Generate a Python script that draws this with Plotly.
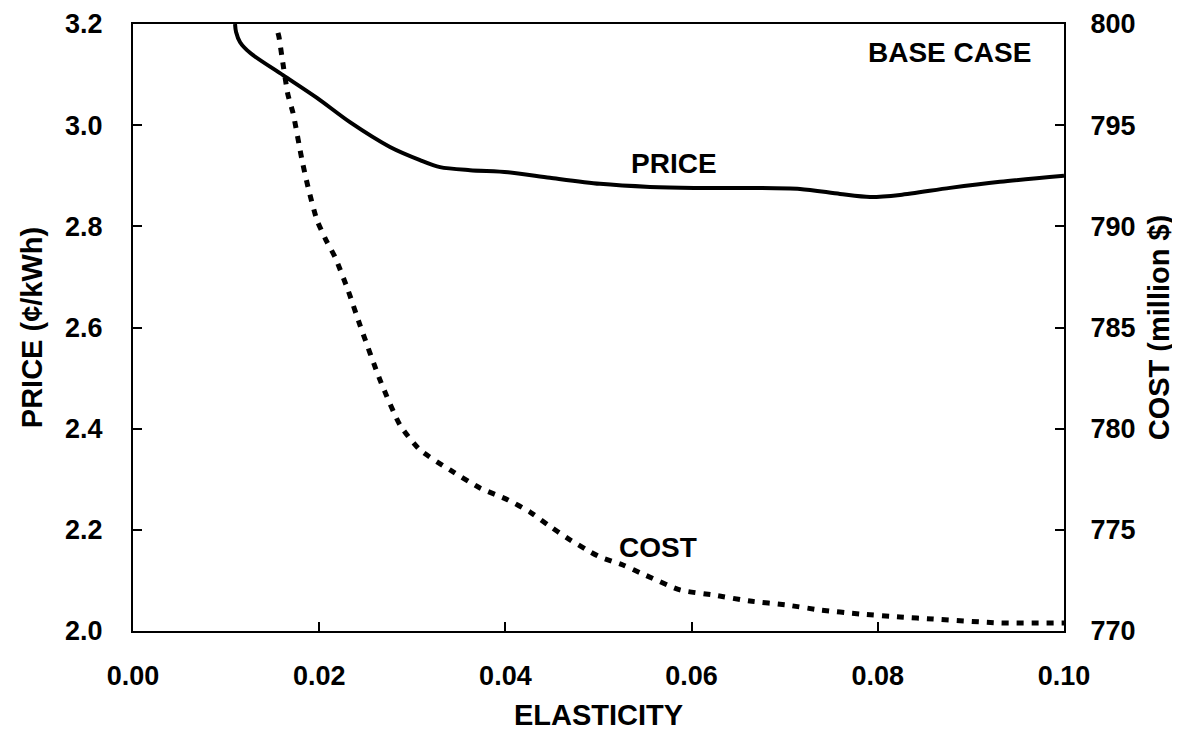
import plotly.graph_objects as go

# PRICE curve (left axis, cents/kWh)
price_x = [0.01096, 0.01107, 0.01150, 0.01257, 0.01611, 0.01976, 0.02330, 0.02760,
           0.03083, 0.03298, 0.03620, 0.04028, 0.04479, 0.05016, 0.05553, 0.06026,
           0.06627, 0.07164, 0.07594, 0.07916, 0.08239, 0.08776, 0.09313, 0.10000]
price_y = [3.200, 3.184, 3.164, 3.143, 3.099, 3.054, 3.006, 2.957,
           2.931, 2.917, 2.911, 2.907, 2.896, 2.884, 2.878, 2.876,
           2.876, 2.874, 2.864, 2.858, 2.862, 2.876, 2.888, 2.900]

# COST curve (right axis, million $)
cost_x = [0.01557, 0.01568, 0.01600, 0.01665, 0.01719, 0.01815, 0.01880, 0.01976,
          0.02073, 0.02170, 0.02309, 0.02438, 0.02653, 0.02868, 0.03083, 0.03405,
          0.03727, 0.04028, 0.04264, 0.04458, 0.04662, 0.04877, 0.05016, 0.05263,
          0.05499, 0.05875, 0.06230, 0.06627, 0.07025, 0.07379, 0.07809, 0.08239,
          0.08593, 0.09313, 0.10000]
cost_y = [799.56, 799.36, 798.37, 796.49, 795.60, 793.28, 791.94, 790.31,
          789.32, 788.48, 786.85, 785.12, 782.41, 780.18, 778.95, 777.96,
          777.07, 776.48, 775.88, 775.24, 774.60, 774.00, 773.66, 773.26,
          772.77, 772.03, 771.78, 771.48, 771.28, 771.04, 770.84, 770.69,
          770.59, 770.40, 770.40]

x_ticks = [0.00, 0.02, 0.04, 0.06, 0.08, 0.10]
x_ticklabels = ["0.00", "0.02", "0.04", "0.06", "0.08", "0.10"]
y_ticks = [2.0, 2.2, 2.4, 2.6, 2.8, 3.0, 3.2]
y_ticklabels = ["2.0", "2.2", "2.4", "2.6", "2.8", "3.0", "3.2"]
y2_ticks = [770, 775, 780, 785, 790, 795, 800]
y2_ticklabels = ["770", "775", "780", "785", "790", "795", "800"]

FONT = "Liberation Sans, Arial, Helvetica, sans-serif"

fig = go.Figure()
fig.add_trace(go.Scatter(x=price_x, y=price_y, mode="lines", name="PRICE",
                         line=dict(color="black", width=4, shape="spline", smoothing=0.8),
                         yaxis="y", showlegend=False))
fig.add_trace(go.Scatter(x=cost_x, y=cost_y, mode="lines", name="COST",
                         line=dict(color="black", width=5, dash="7px,8px", shape="spline", smoothing=0.6),
                         yaxis="y2", showlegend=False))

tickfont = dict(family=FONT, size=27, color="black", weight="bold")
titlefont = dict(family=FONT, size=29, color="black", weight="bold")
annfont = dict(family=FONT, size=28, color="black", weight="bold")

# page body has an 8px margin, so the figure is offset by 8px
fig.update_layout(
    width=1172, height=724,
    margin=dict(l=125, r=116, t=16, b=101),
    paper_bgcolor="white", plot_bgcolor="white",
    xaxis=dict(range=[0, 0.1], tickvals=x_ticks, ticktext=x_ticklabels,
               ticks="inside", ticklen=9, tickwidth=2, tickcolor="black",
               showline=True, linecolor="black", linewidth=2, mirror=True,
               showgrid=False, zeroline=False, tickfont=tickfont, ticklabelstandoff=20,
               automargin=False,
               title=dict(text="ELASTICITY", font=titlefont, standoff=14)),
    yaxis=dict(range=[2.0, 3.2], tickvals=y_ticks, ticktext=y_ticklabels,
               ticks="inside", ticklen=9, tickwidth=2, tickcolor="black",
               showline=True, linecolor="black", linewidth=2,
               showgrid=False, zeroline=False, tickfont=tickfont, ticklabelstandoff=23,
               automargin=False,
               title=dict(text="PRICE (¢/kWh)", font=titlefont, standoff=14)),
    yaxis2=dict(range=[770, 800], tickvals=y2_ticks, ticktext=y2_ticklabels,
                overlaying="y", side="right",
                ticks="inside", ticklen=9, tickwidth=2, tickcolor="black",
                showline=True, linecolor="black", linewidth=2,
                showgrid=False, zeroline=False, tickfont=tickfont, ticklabelstandoff=19,
                automargin=False,
                title=dict(text="COST (million $)", font=titlefont, standoff=14)),
    annotations=[
        dict(x=0.0877, y=3.143, xref="x", yref="y", text="BASE CASE", showarrow=False,
             font=annfont),
        dict(x=0.0581, y=2.925, xref="x", yref="y", text="PRICE", showarrow=False,
             font=annfont),
        dict(x=0.0564, y=2.166, xref="x", yref="y", text="COST", showarrow=False,
             font=annfont),
    ],
)

fig.write_html("out.html")
